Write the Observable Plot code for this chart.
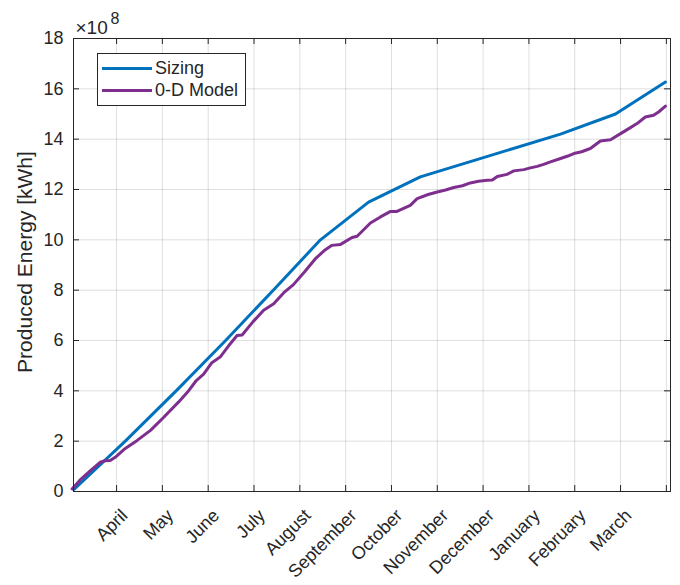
<!DOCTYPE html>
<html>
<head>
<meta charset="utf-8">
<script src="https://cdn.jsdelivr.net/npm/d3@7"></script>
<script src="https://cdn.jsdelivr.net/npm/@observablehq/plot@0.6"></script>
<style>
  body { margin: 0; background: #fff; font-family: "Liberation Sans", Arial, sans-serif; }
  #wrap { position: relative; width: 680px; height: 585px; }
  #legend {
    position: absolute; left: 97px; top: 53px; width: 149px; height: 53px;
    box-sizing: border-box; border: 1px solid #262626; background: #fff;
    padding-top: 3px; color: #262626; font-size: 18px;
  }
  #legend .row { display: flex; align-items: center; height: 22.5px; }
  #legend .sw { display: inline-block; width: 50px; height: 3px; margin-left: 4px; margin-right: 3px; }
</style>
</head>
<body>
<div id="wrap"></div>
<script>
// ---- data ----
const monthLabels = ["April","May","June","July","August","September","October","November","December","January","February","March",""];
const tickPositions = [1,2,3,4,5,6,7,8,9,10,11,12,13];
const yTicks = [0,2,4,6,8,10,12,14,16,18];
const seriesNames = ["Sizing","0-D Model"];
const seriesColors = ["#0072BD","#7E2F8E"];

// x in months since start of period, energy in 1e8 kWh
const sizingMonth  = [0.07, 1.19, 2.30, 3.38, 4.42, 5.45, 6.50, 7.63, 10.69, 11.89, 12.98];
const sizingEnergy = [0.08, 2.00, 4.00, 6.00, 8.00, 10.00, 11.50, 12.50, 14.20, 15.00, 16.27];

const modelMonth  = [0.03,0.20,0.43,0.64,0.75,0.86,0.97,1.19,1.45,1.74,2.03,2.35,2.55,2.74,2.90,3.08,3.26,3.45,3.63,3.74,3.98,4.21,4.43,4.65,4.86,5.10,5.34,5.55,5.70,5.88,6.14,6.25,6.54,6.76,6.98,7.12,7.41,7.56,7.80,8.00,8.18,8.36,8.55,8.72,8.90,9.09,9.20,9.31,9.52,9.67,9.89,10.03,10.18,10.32,10.47,10.69,10.85,10.98,11.15,11.34,11.56,11.78,12.00,12.18,12.36,12.54,12.72,12.83,12.98];
const modelEnergy = [0.10,0.45,0.83,1.16,1.22,1.23,1.36,1.71,2.03,2.43,2.95,3.55,3.95,4.41,4.66,5.12,5.34,5.80,6.20,6.22,6.75,7.20,7.46,7.90,8.22,8.72,9.25,9.60,9.78,9.81,10.09,10.14,10.67,10.91,11.13,11.13,11.37,11.64,11.80,11.90,11.98,12.08,12.15,12.26,12.33,12.37,12.38,12.52,12.60,12.74,12.79,12.86,12.92,13.00,13.10,13.23,13.33,13.43,13.50,13.63,13.93,13.98,14.22,14.42,14.62,14.88,14.95,15.08,15.31];

const sizing = sizingMonth.map((m, i) => ({m, e: sizingEnergy[i]}));
const model = modelMonth.map((m, i) => ({m, e: modelEnergy[i]}));

const ink = "#262626";
const frameH = 585 - 38 - 94;
const frameW = 680 - 73 - 10;

const chart = Plot.plot({
  width: 680, height: 585,
  marginLeft: 73, marginRight: 10, marginTop: 38, marginBottom: 94,
  style: {fontFamily: "'Liberation Sans', Arial, sans-serif", fontSize: "18px", color: ink, background: "#fff"},
  x: {domain: [0.06, 13.09], axis: null},
  y: {domain: [0, 18], axis: null},
  marks: [
    Plot.gridX(tickPositions, {stroke: ink, strokeOpacity: 0.15, strokeWidth: 1}),
    Plot.gridY(yTicks, {stroke: ink, strokeOpacity: 0.15, strokeWidth: 1}),
    Plot.line(sizing, {x: "m", y: "e", stroke: seriesColors[0], strokeWidth: 3}),
    Plot.line(model, {x: "m", y: "e", stroke: seriesColors[1], strokeWidth: 3}),
    // inward ticks
    Plot.ruleX(tickPositions, {x: d => d, insetTop: frameH - 6, stroke: ink}),
    Plot.ruleX(tickPositions, {x: d => d, insetBottom: frameH - 6, stroke: ink}),
    Plot.ruleY(yTicks, {y: d => d, insetRight: frameW - 6, stroke: ink}),
    Plot.ruleY(yTicks, {y: d => d, insetLeft: frameW - 6, stroke: ink}),
    Plot.frame({stroke: ink, strokeWidth: 1}),
    // y tick labels
    Plot.text(yTicks, {y: d => d, text: d => String(d), frameAnchor: "left", textAnchor: "end", lineAnchor: "middle", dx: -10, fontSize: 18, fill: ink}),
    // x tick labels (rotated)
    Plot.text(tickPositions, {x: d => d, text: (d, i) => monthLabels[i], frameAnchor: "bottom", textAnchor: "end", lineAnchor: "middle", rotate: -45, dx: 8, dy: 21, fontSize: 18, fill: ink}),
    // y label
    Plot.text(["Produced Energy [kWh]"], {frameAnchor: "left", rotate: -90, textAnchor: "middle", lineAnchor: "middle", dx: -48, dy: -3, fontSize: 21, fill: ink}),
    // exponent
    Plot.text(["×10"], {frameAnchor: "top-left", textAnchor: "start", lineAnchor: "bottom", dx: 2, dy: -5, fontSize: 19, fill: ink}),
    Plot.text(["8"], {frameAnchor: "top-left", textAnchor: "start", lineAnchor: "bottom", dx: 37, dy: -15, fontSize: 16, fill: ink})
  ]
});

const wrap = document.getElementById("wrap");
wrap.appendChild(chart);

const legend = document.createElement("div");
legend.id = "legend";
seriesNames.forEach((name, i) => {
  const row = document.createElement("div");
  row.className = "row";
  const sw = document.createElement("span");
  sw.className = "sw";
  sw.style.background = seriesColors[i];
  const t = document.createElement("span");
  t.textContent = name;
  row.appendChild(sw);
  row.appendChild(t);
  legend.appendChild(row);
});
wrap.appendChild(legend);
</script>
</body>
</html>
